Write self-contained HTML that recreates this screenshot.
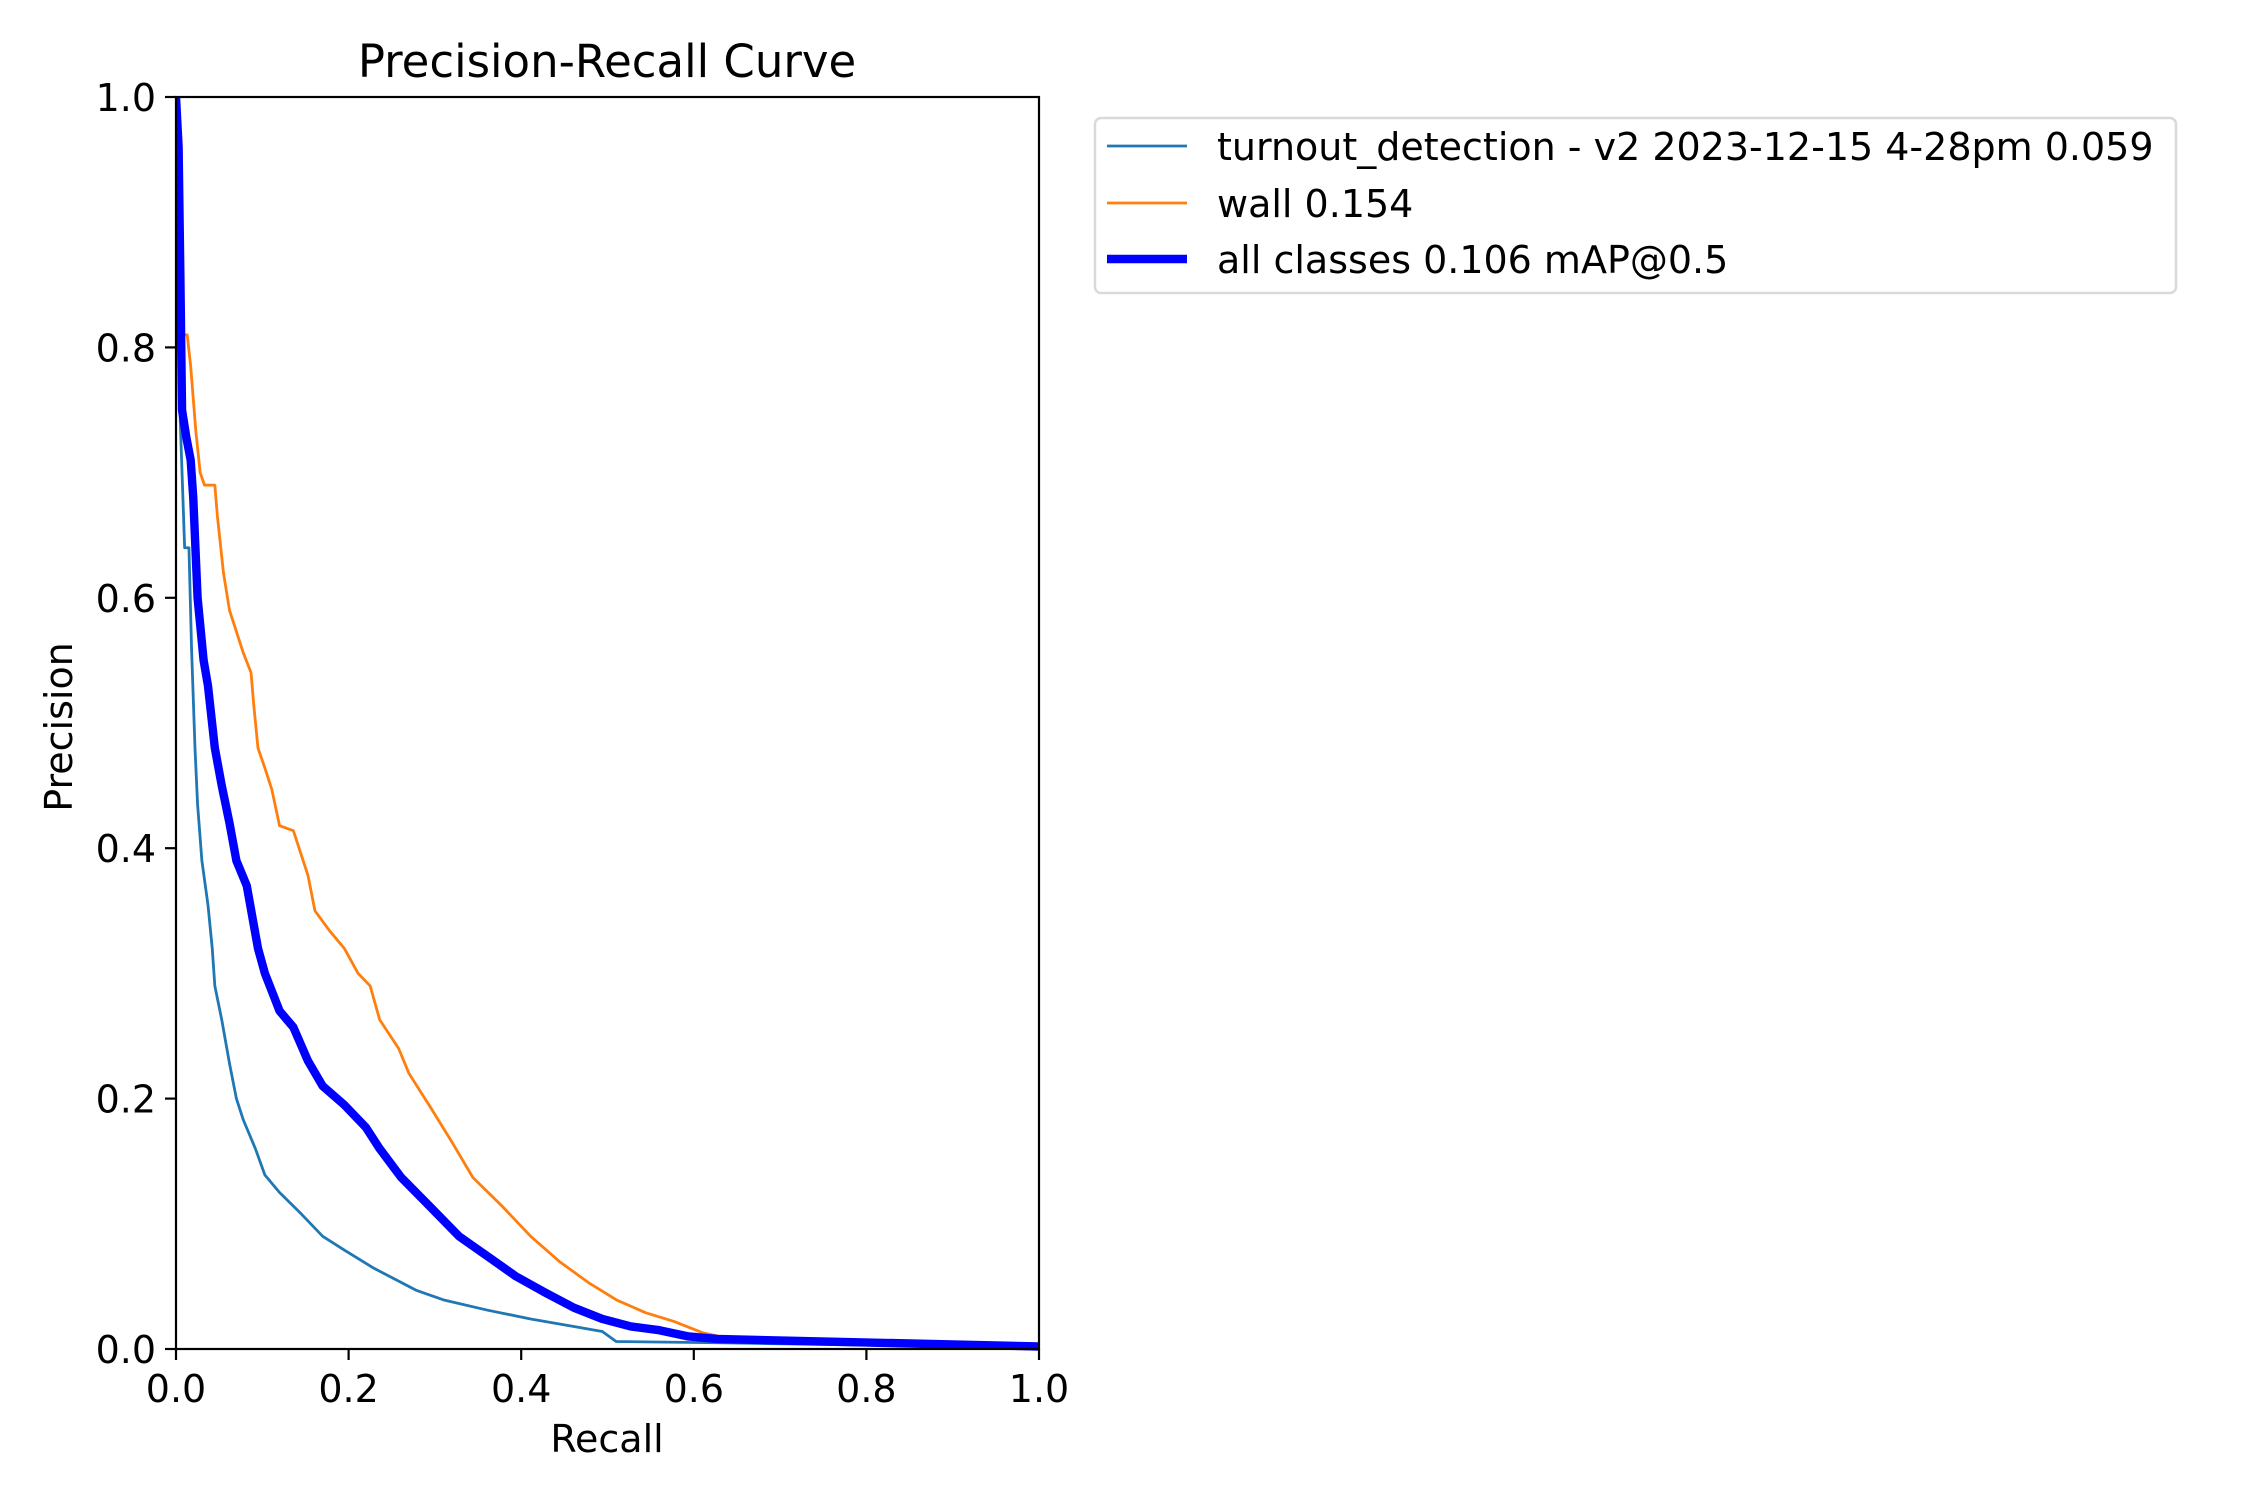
<!DOCTYPE html>
<html><head><meta charset="utf-8"><style>
html,body{margin:0;padding:0;background:#fff;}
svg{display:block;font-family:"DejaVu Sans","Liberation Sans",sans-serif;}
</style></head><body>
<svg id="chart" width="2250" height="1500" viewBox="0 0 2250 1500">
<rect width="2250" height="1500" fill="#fff"/>
<g id="plot"></g>
<g id="axes"></g>
<text x="607" y="77" font-size="45" text-anchor="middle">Precision-Recall Curve</text>
<text x="607" y="1452" font-size="38" text-anchor="middle">Recall</text>
<text transform="translate(72,727) rotate(-90)" font-size="38" text-anchor="middle">Precision</text>
<g>
<rect x="1095" y="118" width="1081" height="175" rx="6" fill="#fff" stroke="#d9d9d9" stroke-width="2.5"/>
<g><line x1="1107" y1="146" x2="1187" y2="146" stroke="#1f77b4" stroke-width="2.8"/><text x="1217" y="160" font-size="38">turnout_detection - v2 2023-12-15 4-28pm 0.059</text></g>
<g><line x1="1107" y1="203" x2="1187" y2="203" stroke="#ff7f0e" stroke-width="2.8"/><text x="1217" y="217" font-size="38">wall 0.154</text></g>
<g><line x1="1107" y1="259" x2="1187" y2="259" stroke="#0000ff" stroke-width="8.4"/><text x="1217" y="273" font-size="38">all classes 0.106 mAP@0.5</text></g>
</g>
</svg>
<script>
const xTicks=[0,0.2,0.4,0.6,0.8,1.0];
const yTicks=[0,0.2,0.4,0.6,0.8,1.0];
const turnoutRecall=[0,0.003,0.005,0.01,0.015,0.018,0.022,0.025,0.03,0.037,0.042,0.045,0.053,0.062,0.07,0.078,0.092,0.103,0.12,0.145,0.17,0.195,0.228,0.253,0.278,0.311,0.361,0.411,0.461,0.494,0.51,0.627,1.0];
const turnoutPrecision=[1.0,0.8,0.74,0.64,0.64,0.56,0.48,0.435,0.39,0.355,0.32,0.29,0.263,0.228,0.2,0.183,0.16,0.139,0.125,0.108,0.09,0.079,0.065,0.056,0.047,0.039,0.031,0.024,0.018,0.014,0.006,0.005,0.001];
const wallRecall=[0.005,0.013,0.017,0.023,0.028,0.033,0.045,0.048,0.055,0.062,0.07,0.078,0.087,0.09,0.095,0.103,0.111,0.12,0.136,0.145,0.153,0.161,0.178,0.195,0.211,0.225,0.236,0.258,0.27,0.294,0.32,0.344,0.378,0.411,0.444,0.478,0.511,0.544,0.577,0.61,0.644,1.0];
const wallPrecision=[0.81,0.81,0.785,0.733,0.70,0.69,0.69,0.665,0.62,0.59,0.573,0.556,0.54,0.515,0.48,0.464,0.447,0.418,0.414,0.395,0.378,0.35,0.334,0.32,0.30,0.29,0.263,0.24,0.22,0.194,0.165,0.137,0.114,0.09,0.07,0.053,0.039,0.029,0.022,0.013,0.008,0.002];
const allRecall=[0,0.003,0.005,0.007,0.012,0.017,0.02,0.025,0.032,0.037,0.045,0.053,0.062,0.07,0.082,0.095,0.103,0.12,0.136,0.153,0.17,0.195,0.22,0.236,0.261,0.294,0.328,0.361,0.394,0.428,0.461,0.494,0.527,0.56,0.594,0.627,1.0];
const allPrecision=[1.0,0.96,0.86,0.75,0.728,0.71,0.68,0.6,0.55,0.53,0.48,0.45,0.42,0.39,0.37,0.32,0.30,0.27,0.257,0.23,0.21,0.195,0.177,0.16,0.137,0.114,0.09,0.074,0.058,0.045,0.033,0.024,0.018,0.015,0.01,0.008,0.002];
const X0=176,X1=1039,Y0=1349,Y1=97;
const sx=v=>X0+v*(X1-X0), sy=v=>Y0-v*(Y0-Y1);
const NS="http://www.w3.org/2000/svg";
const plot=document.getElementById('plot'), axes=document.getElementById('axes');
const clip=document.createElementNS(NS,'clipPath');clip.id='clp';
const cr=document.createElementNS(NS,'rect');cr.setAttribute('x',X0);cr.setAttribute('y',Y1-4);cr.setAttribute('width',X1-X0);cr.setAttribute('height',Y0-Y1+8);
clip.appendChild(cr);plot.appendChild(clip);
function series(xs,ys,color,w,name){
  const p=document.createElementNS(NS,'polyline');
  p.setAttribute('points',xs.map((x,i)=>sx(x)+','+sy(ys[i])).join(' '));
  p.setAttribute('fill','none');p.setAttribute('stroke',color);p.setAttribute('stroke-width',w);
  p.setAttribute('stroke-linejoin','round');p.setAttribute('clip-path','url(#clp)');
  
  
  plot.appendChild(p);
}
series(turnoutRecall,turnoutPrecision,'#1f77b4',2.8,'turnout-series-line');
series(wallRecall,wallPrecision,'#ff7f0e',2.8,'wall-series-line');
series(allRecall,allPrecision,'#0000ff',8.4,'all-classes-series-line');
const fr=document.createElementNS(NS,'rect');
fr.setAttribute('x',X0);fr.setAttribute('y',Y1);fr.setAttribute('width',X1-X0);fr.setAttribute('height',Y0-Y1);
fr.setAttribute('fill','none');fr.setAttribute('stroke','#000');fr.setAttribute('stroke-width',2.2);


axes.appendChild(fr);
xTicks.forEach(t=>{
  const l=document.createElementNS(NS,'line');
  l.setAttribute('x1',sx(t));l.setAttribute('x2',sx(t));l.setAttribute('y1',Y0);l.setAttribute('y2',Y0+11);
  l.setAttribute('stroke','#000');l.setAttribute('stroke-width',2.2);
  
  
  axes.appendChild(l);
  const tx=document.createElementNS(NS,'text');
  tx.setAttribute('x',sx(t));tx.setAttribute('y',Y0+53);tx.setAttribute('font-size',38);tx.setAttribute('text-anchor','middle');
  tx.textContent=t.toFixed(1);
  
  
  axes.appendChild(tx);
});
yTicks.forEach(t=>{
  const l=document.createElementNS(NS,'line');
  l.setAttribute('x1',X0-11);l.setAttribute('x2',X0);l.setAttribute('y1',sy(t));l.setAttribute('y2',sy(t));
  l.setAttribute('stroke','#000');l.setAttribute('stroke-width',2.2);
  
  
  axes.appendChild(l);
  const tx=document.createElementNS(NS,'text');
  tx.setAttribute('x',X0-20);tx.setAttribute('y',sy(t)+14);tx.setAttribute('font-size',38);tx.setAttribute('text-anchor','end');
  tx.textContent=t.toFixed(1);
  
  
  axes.appendChild(tx);
});
</script>
</body></html>
